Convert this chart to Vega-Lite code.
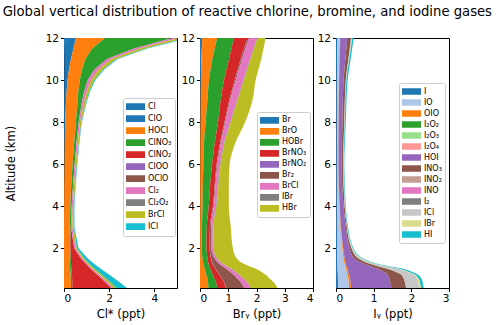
{
  "$schema": "https://vega.github.io/schema/vega-lite/v6.json",
  "padding": {"left": 2, "top": 5, "right": 2, "bottom": 5},
  "title": {"text": "Global vertical distribution of reactive chlorine, bromine, and iodine gases", "fontSize": 13.2, "fontWeight": "normal", "font": "DejaVu Sans", "color": "black", "anchor": "middle", "offset": 13, "dx": 20},
  "config": {
    "font": "DejaVu Sans",
    "view": {"stroke": "black", "strokeWidth": 1},
    "axis": {"grid": false, "domain": false, "tickColor": "black", "tickSize": 3.5, "labelFontSize": 10.5, "titleFontSize": 11.5, "labelColor": "black", "titleColor": "black", "titleFontWeight": "normal", "labelPadding": 2, "labelFont": "DejaVu Sans", "titleFont": "DejaVu Sans"},
    "legend": {"orient": "none", "title": null, "fillColor": "white", "strokeColor": "#cccccc", "cornerRadius": 2, "padding": 3, "labelFontSize": 8, "labelFont": "DejaVu Sans", "labelColor": "black", "symbolType": "M-1,-0.35H1V0.35H-1Z", "symbolSize": 361, "symbolStrokeWidth": 0, "symbolOpacity": 1, "clipHeight": 11.2, "rowPadding": 0, "labelOffset": 3}
  },
  "spacing": 23,
  "bounds": "flush",
  "resolve": {"scale": {"color": "independent"}, "legend": {"color": "independent"}},
  "datasets": {
    "cl": [
      {"a":0.1,"s":"Cl","v":0},{"a":0.1,"s":"ClO","v":0},{"a":0.1,"s":"HOCl","v":0.31},{"a":0.1,"s":"ClNO₃","v":0.06},{"a":0.1,"s":"ClNO₂","v":1.71},{"a":0.1,"s":"Cl₂","v":0.10},{"a":0.1,"s":"BrCl","v":0.14},{"a":0.1,"s":"ICl","v":0.46},
      {"a":0.3,"s":"Cl","v":0},{"a":0.3,"s":"ClO","v":0},{"a":0.3,"s":"HOCl","v":0.31},{"a":0.3,"s":"ClNO₃","v":0.06},{"a":0.3,"s":"ClNO₂","v":1.53},{"a":0.3,"s":"Cl₂","v":0.10},{"a":0.3,"s":"BrCl","v":0.13},{"a":0.3,"s":"ICl","v":0.42},
      {"a":0.5,"s":"Cl","v":0},{"a":0.5,"s":"ClO","v":0},{"a":0.5,"s":"HOCl","v":0.30},{"a":0.5,"s":"ClNO₃","v":0.06},{"a":0.5,"s":"ClNO₂","v":1.35},{"a":0.5,"s":"Cl₂","v":0.09},{"a":0.5,"s":"BrCl","v":0.12},{"a":0.5,"s":"ICl","v":0.38},
      {"a":0.75,"s":"Cl","v":0},{"a":0.75,"s":"ClO","v":0},{"a":0.75,"s":"HOCl","v":0.29},{"a":0.75,"s":"ClNO₃","v":0.06},{"a":0.75,"s":"ClNO₂","v":1.10},{"a":0.75,"s":"Cl₂","v":0.09},{"a":0.75,"s":"BrCl","v":0.11},{"a":0.75,"s":"ICl","v":0.33},
      {"a":1,"s":"Cl","v":0},{"a":1,"s":"ClO","v":0},{"a":1,"s":"HOCl","v":0.27},{"a":1,"s":"ClNO₃","v":0.06},{"a":1,"s":"ClNO₂","v":0.86},{"a":1,"s":"Cl₂","v":0.08},{"a":1,"s":"BrCl","v":0.10},{"a":1,"s":"ICl","v":0.27},
      {"a":1.25,"s":"Cl","v":0},{"a":1.25,"s":"ClO","v":0},{"a":1.25,"s":"HOCl","v":0.26},{"a":1.25,"s":"ClNO₃","v":0.05},{"a":1.25,"s":"ClNO₂","v":0.66},{"a":1.25,"s":"Cl₂","v":0.07},{"a":1.25,"s":"BrCl","v":0.08},{"a":1.25,"s":"ICl","v":0.21},
      {"a":1.5,"s":"Cl","v":0},{"a":1.5,"s":"ClO","v":0},{"a":1.5,"s":"HOCl","v":0.25},{"a":1.5,"s":"ClNO₃","v":0.05},{"a":1.5,"s":"ClNO₂","v":0.45},{"a":1.5,"s":"Cl₂","v":0.07},{"a":1.5,"s":"BrCl","v":0.08},{"a":1.5,"s":"ICl","v":0.15},
      {"a":2,"s":"Cl","v":0},{"a":2,"s":"ClO","v":0},{"a":2,"s":"HOCl","v":0.24},{"a":2,"s":"ClNO₃","v":0.04},{"a":2,"s":"ClNO₂","v":0.17},{"a":2,"s":"Cl₂","v":0.06},{"a":2,"s":"BrCl","v":0.06},{"a":2,"s":"ICl","v":0.07},
      {"a":3,"s":"Cl","v":0},{"a":3,"s":"ClO","v":0},{"a":3,"s":"HOCl","v":0.25},{"a":3,"s":"ClNO₃","v":0.05},{"a":3,"s":"ClNO₂","v":0.01},{"a":3,"s":"Cl₂","v":0.06},{"a":3,"s":"BrCl","v":0.06},{"a":3,"s":"ICl","v":0.03},
      {"a":4,"s":"Cl","v":0.001},{"a":4,"s":"ClO","v":0.004},{"a":4,"s":"HOCl","v":0.275},{"a":4,"s":"ClNO₃","v":0.06},{"a":4,"s":"ClNO₂","v":0},{"a":4,"s":"Cl₂","v":0.05},{"a":4,"s":"BrCl","v":0.05},{"a":4,"s":"ICl","v":0.02},
      {"a":5,"s":"Cl","v":0.001},{"a":5,"s":"ClO","v":0.009},{"a":5,"s":"HOCl","v":0.31},{"a":5,"s":"ClNO₃","v":0.08},{"a":5,"s":"ClNO₂","v":0},{"a":5,"s":"Cl₂","v":0.05},{"a":5,"s":"BrCl","v":0.05},{"a":5,"s":"ICl","v":0.02},
      {"a":6,"s":"Cl","v":0.002},{"a":6,"s":"ClO","v":0.018},{"a":6,"s":"HOCl","v":0.36},{"a":6,"s":"ClNO₃","v":0.09},{"a":6,"s":"ClNO₂","v":0},{"a":6,"s":"Cl₂","v":0.05},{"a":6,"s":"BrCl","v":0.05},{"a":6,"s":"ICl","v":0.02},
      {"a":7,"s":"Cl","v":0.003},{"a":7,"s":"ClO","v":0.027},{"a":7,"s":"HOCl","v":0.42},{"a":7,"s":"ClNO₃","v":0.10},{"a":7,"s":"ClNO₂","v":0},{"a":7,"s":"Cl₂","v":0.06},{"a":7,"s":"BrCl","v":0.05},{"a":7,"s":"ICl","v":0.02},
      {"a":8,"s":"Cl","v":0.005},{"a":8,"s":"ClO","v":0.045},{"a":8,"s":"HOCl","v":0.48},{"a":8,"s":"ClNO₃","v":0.12},{"a":8,"s":"ClNO₂","v":0},{"a":8,"s":"Cl₂","v":0.06},{"a":8,"s":"BrCl","v":0.06},{"a":8,"s":"ICl","v":0.02},
      {"a":9,"s":"Cl","v":0.009},{"a":9,"s":"ClO","v":0.081},{"a":9,"s":"HOCl","v":0.51},{"a":9,"s":"ClNO₃","v":0.20},{"a":9,"s":"ClNO₂","v":0},{"a":9,"s":"Cl₂","v":0.10},{"a":9,"s":"BrCl","v":0.09},{"a":9,"s":"ICl","v":0.03},
      {"a":9.5,"s":"Cl","v":0.012},{"a":9.5,"s":"ClO","v":0.108},{"a":9.5,"s":"HOCl","v":0.52},{"a":9.5,"s":"ClNO₃","v":0.26},{"a":9.5,"s":"ClNO₂","v":0},{"a":9.5,"s":"Cl₂","v":0.12},{"a":9.5,"s":"BrCl","v":0.11},{"a":9.5,"s":"ICl","v":0.04},
      {"a":10,"s":"Cl","v":0.016},{"a":10,"s":"ClO","v":0.144},{"a":10,"s":"HOCl","v":0.54},{"a":10,"s":"ClNO₃","v":0.35},{"a":10,"s":"ClNO₂","v":0},{"a":10,"s":"Cl₂","v":0.15},{"a":10,"s":"BrCl","v":0.14},{"a":10,"s":"ICl","v":0.05},
      {"a":10.5,"s":"Cl","v":0.022},{"a":10.5,"s":"ClO","v":0.198},{"a":10.5,"s":"HOCl","v":0.58},{"a":10.5,"s":"ClNO₃","v":0.55},{"a":10.5,"s":"ClNO₂","v":0},{"a":10.5,"s":"Cl₂","v":0.18},{"a":10.5,"s":"BrCl","v":0.19},{"a":10.5,"s":"ICl","v":0.06},
      {"a":11,"s":"Cl","v":0.031},{"a":11,"s":"ClO","v":0.279},{"a":11,"s":"HOCl","v":0.64},{"a":11,"s":"ClNO₃","v":0.95},{"a":11,"s":"ClNO₂","v":0},{"a":11,"s":"Cl₂","v":0.20},{"a":11,"s":"BrCl","v":0.22},{"a":11,"s":"ICl","v":0.06},
      {"a":11.5,"s":"Cl","v":0.042},{"a":11.5,"s":"ClO","v":0.378},{"a":11.5,"s":"HOCl","v":0.83},{"a":11.5,"s":"ClNO₃","v":1.85},{"a":11.5,"s":"ClNO₂","v":0},{"a":11.5,"s":"Cl₂","v":0.25},{"a":11.5,"s":"BrCl","v":0.27},{"a":11.5,"s":"ICl","v":0.08},
      {"a":12,"s":"Cl","v":0.053},{"a":12,"s":"ClO","v":0.477},{"a":12,"s":"HOCl","v":1.29},{"a":12,"s":"ClNO₃","v":2.98},{"a":12,"s":"ClNO₂","v":0},{"a":12,"s":"Cl₂","v":0.30},{"a":12,"s":"BrCl","v":0.30},{"a":12,"s":"ICl","v":0.10}
    ],
    "br": [
      {"a":0.1,"s":"Br","v":0},{"a":0.1,"s":"BrO","v":0.30},{"a":0.1,"s":"HOBr","v":0.31},{"a":0.1,"s":"BrNO₃","v":0.30},{"a":0.1,"s":"BrNO₂","v":0.01},{"a":0.1,"s":"Br₂","v":0.64},{"a":0.1,"s":"BrCl","v":0.22},{"a":0.1,"s":"IBr","v":0.02},{"a":0.1,"s":"HBr","v":0.94},
      {"a":0.3,"s":"Br","v":0},{"a":0.3,"s":"BrO","v":0.29},{"a":0.3,"s":"HOBr","v":0.29},{"a":0.3,"s":"BrNO₃","v":0.29},{"a":0.3,"s":"BrNO₂","v":0.01},{"a":0.3,"s":"Br₂","v":0.60},{"a":0.3,"s":"BrCl","v":0.22},{"a":0.3,"s":"IBr","v":0.02},{"a":0.3,"s":"HBr","v":0.93},
      {"a":0.5,"s":"Br","v":0},{"a":0.5,"s":"BrO","v":0.27},{"a":0.5,"s":"HOBr","v":0.26},{"a":0.5,"s":"BrNO₃","v":0.27},{"a":0.5,"s":"BrNO₂","v":0.01},{"a":0.5,"s":"Br₂","v":0.55},{"a":0.5,"s":"BrCl","v":0.21},{"a":0.5,"s":"IBr","v":0.02},{"a":0.5,"s":"HBr","v":0.91},
      {"a":0.75,"s":"Br","v":0},{"a":0.75,"s":"BrO","v":0.22},{"a":0.75,"s":"HOBr","v":0.23},{"a":0.75,"s":"BrNO₃","v":0.23},{"a":0.75,"s":"BrNO₂","v":0.01},{"a":0.75,"s":"Br₂","v":0.48},{"a":0.75,"s":"BrCl","v":0.19},{"a":0.75,"s":"IBr","v":0.02},{"a":0.75,"s":"HBr","v":0.92},
      {"a":1,"s":"Br","v":0},{"a":1,"s":"BrO","v":0.17},{"a":1,"s":"HOBr","v":0.20},{"a":1,"s":"BrNO₃","v":0.18},{"a":1,"s":"BrNO₂","v":0.01},{"a":1,"s":"Br₂","v":0.39},{"a":1,"s":"BrCl","v":0.17},{"a":1,"s":"IBr","v":0.02},{"a":1,"s":"HBr","v":0.86},
      {"a":1.25,"s":"Br","v":0},{"a":1.25,"s":"BrO","v":0.12},{"a":1.25,"s":"HOBr","v":0.18},{"a":1.25,"s":"BrNO₃","v":0.14},{"a":1.25,"s":"BrNO₂","v":0.01},{"a":1.25,"s":"Br₂","v":0.23},{"a":1.25,"s":"BrCl","v":0.12},{"a":1.25,"s":"IBr","v":0.02},{"a":1.25,"s":"HBr","v":0.73},
      {"a":1.5,"s":"Br","v":0},{"a":1.5,"s":"BrO","v":0.09},{"a":1.5,"s":"HOBr","v":0.18},{"a":1.5,"s":"BrNO₃","v":0.12},{"a":1.5,"s":"BrNO₂","v":0.01},{"a":1.5,"s":"Br₂","v":0.12},{"a":1.5,"s":"BrCl","v":0.08},{"a":1.5,"s":"IBr","v":0.02},{"a":1.5,"s":"HBr","v":0.68},
      {"a":2,"s":"Br","v":0.003},{"a":2,"s":"BrO","v":0.057},{"a":2,"s":"HOBr","v":0.17},{"a":2,"s":"BrNO₃","v":0.11},{"a":2,"s":"BrNO₂","v":0.005},{"a":2,"s":"Br₂","v":0.055},{"a":2,"s":"BrCl","v":0.06},{"a":2,"s":"IBr","v":0.02},{"a":2,"s":"HBr","v":0.68},
      {"a":3,"s":"Br","v":0.004},{"a":3,"s":"BrO","v":0.066},{"a":3,"s":"HOBr","v":0.17},{"a":3,"s":"BrNO₃","v":0.11},{"a":3,"s":"BrNO₂","v":0.005},{"a":3,"s":"Br₂","v":0.035},{"a":3,"s":"BrCl","v":0.06},{"a":3,"s":"IBr","v":0.02},{"a":3,"s":"HBr","v":0.62},
      {"a":4,"s":"Br","v":0.005},{"a":4,"s":"BrO","v":0.085},{"a":4,"s":"HOBr","v":0.22},{"a":4,"s":"BrNO₃","v":0.15},{"a":4,"s":"BrNO₂","v":0.005},{"a":4,"s":"Br₂","v":0.025},{"a":4,"s":"BrCl","v":0.08},{"a":4,"s":"IBr","v":0.02},{"a":4,"s":"HBr","v":0.43},
      {"a":5,"s":"Br","v":0.006},{"a":5,"s":"BrO","v":0.094},{"a":5,"s":"HOBr","v":0.26},{"a":5,"s":"BrNO₃","v":0.16},{"a":5,"s":"BrNO₂","v":0.005},{"a":5,"s":"Br₂","v":0.025},{"a":5,"s":"BrCl","v":0.08},{"a":5,"s":"IBr","v":0.02},{"a":5,"s":"HBr","v":0.37},
      {"a":6,"s":"Br","v":0.008},{"a":6,"s":"BrO","v":0.112},{"a":6,"s":"HOBr","v":0.31},{"a":6,"s":"BrNO₃","v":0.16},{"a":6,"s":"BrNO₂","v":0.005},{"a":6,"s":"Br₂","v":0.025},{"a":6,"s":"BrCl","v":0.09},{"a":6,"s":"IBr","v":0.02},{"a":6,"s":"HBr","v":0.32},
      {"a":7,"s":"Br","v":0.01},{"a":7,"s":"BrO","v":0.13},{"a":7,"s":"HOBr","v":0.38},{"a":7,"s":"BrNO₃","v":0.19},{"a":7,"s":"BrNO₂","v":0.005},{"a":7,"s":"Br₂","v":0.025},{"a":7,"s":"BrCl","v":0.11},{"a":7,"s":"IBr","v":0.02},{"a":7,"s":"HBr","v":0.38},
      {"a":8,"s":"Br","v":0.015},{"a":8,"s":"BrO","v":0.185},{"a":8,"s":"HOBr","v":0.44},{"a":8,"s":"BrNO₃","v":0.23},{"a":8,"s":"BrNO₂","v":0.005},{"a":8,"s":"Br₂","v":0.025},{"a":8,"s":"BrCl","v":0.17},{"a":8,"s":"IBr","v":0.02},{"a":8,"s":"HBr","v":0.51},
      {"a":9,"s":"Br","v":0.02},{"a":9,"s":"BrO","v":0.24},{"a":9,"s":"HOBr","v":0.47},{"a":9,"s":"BrNO₃","v":0.30},{"a":9,"s":"BrNO₂","v":0.005},{"a":9,"s":"Br₂","v":0.025},{"a":9,"s":"BrCl","v":0.24},{"a":9,"s":"IBr","v":0.02},{"a":9,"s":"HBr","v":0.53},
      {"a":10,"s":"Br","v":0.03},{"a":10,"s":"BrO","v":0.29},{"a":10,"s":"HOBr","v":0.53},{"a":10,"s":"BrNO₃","v":0.38},{"a":10,"s":"BrNO₂","v":0.005},{"a":10,"s":"Br₂","v":0.035},{"a":10,"s":"BrCl","v":0.27},{"a":10,"s":"IBr","v":0.02},{"a":10,"s":"HBr","v":0.41},
      {"a":11,"s":"Br","v":0.05},{"a":11,"s":"BrO","v":0.39},{"a":11,"s":"HOBr","v":0.59},{"a":11,"s":"BrNO₃","v":0.41},{"a":11,"s":"BrNO₂","v":0.005},{"a":11,"s":"Br₂","v":0.045},{"a":11,"s":"BrCl","v":0.28},{"a":11,"s":"IBr","v":0.02},{"a":11,"s":"HBr","v":0.38},
      {"a":12,"s":"Br","v":0.08},{"a":12,"s":"BrO","v":0.53},{"a":12,"s":"HOBr","v":0.59},{"a":12,"s":"BrNO₃","v":0.48},{"a":12,"s":"BrNO₂","v":0.005},{"a":12,"s":"Br₂","v":0.045},{"a":12,"s":"BrCl","v":0.29},{"a":12,"s":"IBr","v":0.02},{"a":12,"s":"HBr","v":0.28}
    ],
    "io": [
      {"a":0.1,"s":"I","v":0.06},{"a":0.1,"s":"IO","v":0.29},{"a":0.1,"s":"OIO","v":0.05},{"a":0.1,"s":"HOI","v":1.07},{"a":0.1,"s":"INO₃","v":0.39},{"a":0.1,"s":"ICl","v":0.35},{"a":0.1,"s":"IBr","v":0.05},{"a":0.1,"s":"HI","v":0.07},
      {"a":0.3,"s":"I","v":0.06},{"a":0.3,"s":"IO","v":0.28},{"a":0.3,"s":"OIO","v":0.05},{"a":0.3,"s":"HOI","v":1.06},{"a":0.3,"s":"INO₃","v":0.39},{"a":0.3,"s":"ICl","v":0.35},{"a":0.3,"s":"IBr","v":0.05},{"a":0.3,"s":"HI","v":0.07},
      {"a":0.5,"s":"I","v":0.05},{"a":0.5,"s":"IO","v":0.28},{"a":0.5,"s":"OIO","v":0.05},{"a":0.5,"s":"HOI","v":1.04},{"a":0.5,"s":"INO₃","v":0.39},{"a":0.5,"s":"ICl","v":0.35},{"a":0.5,"s":"IBr","v":0.05},{"a":0.5,"s":"HI","v":0.07},
      {"a":0.75,"s":"I","v":0.05},{"a":0.75,"s":"IO","v":0.25},{"a":0.75,"s":"OIO","v":0.04},{"a":0.75,"s":"HOI","v":1.02},{"a":0.75,"s":"INO₃","v":0.36},{"a":0.75,"s":"ICl","v":0.32},{"a":0.75,"s":"IBr","v":0.04},{"a":0.75,"s":"HI","v":0.08},
      {"a":1,"s":"I","v":0.04},{"a":1,"s":"IO","v":0.23},{"a":1,"s":"OIO","v":0.04},{"a":1,"s":"HOI","v":0.81},{"a":1,"s":"INO₃","v":0.26},{"a":1,"s":"ICl","v":0.28},{"a":1,"s":"IBr","v":0.04},{"a":1,"s":"HI","v":0.10},
      {"a":1.25,"s":"I","v":0.04},{"a":1.25,"s":"IO","v":0.19},{"a":1.25,"s":"OIO","v":0.03},{"a":1.25,"s":"HOI","v":0.48},{"a":1.25,"s":"INO₃","v":0.16},{"a":1.25,"s":"ICl","v":0.13},{"a":1.25,"s":"IBr","v":0.02},{"a":1.25,"s":"HI","v":0.05},
      {"a":1.5,"s":"I","v":0.03},{"a":1.5,"s":"IO","v":0.17},{"a":1.5,"s":"OIO","v":0.03},{"a":1.5,"s":"HOI","v":0.25},{"a":1.5,"s":"INO₃","v":0.12},{"a":1.5,"s":"ICl","v":0.08},{"a":1.5,"s":"IBr","v":0.02},{"a":1.5,"s":"HI","v":0.03},
      {"a":2,"s":"I","v":0.03},{"a":2,"s":"IO","v":0.14},{"a":2,"s":"OIO","v":0.02},{"a":2,"s":"HOI","v":0.17},{"a":2,"s":"INO₃","v":0.05},{"a":2,"s":"ICl","v":0.02},{"a":2,"s":"IBr","v":0.01},{"a":2,"s":"HI","v":0.02},
      {"a":3,"s":"I","v":0.02},{"a":3,"s":"IO","v":0.10},{"a":3,"s":"OIO","v":0.01},{"a":3,"s":"HOI","v":0.13},{"a":3,"s":"INO₃","v":0.03},{"a":3,"s":"ICl","v":0.01},{"a":3,"s":"IBr","v":0.005},{"a":3,"s":"HI","v":0.015},
      {"a":4,"s":"I","v":0.02},{"a":4,"s":"IO","v":0.07},{"a":4,"s":"OIO","v":0.01},{"a":4,"s":"HOI","v":0.10},{"a":4,"s":"INO₃","v":0.03},{"a":4,"s":"ICl","v":0.01},{"a":4,"s":"IBr","v":0.005},{"a":4,"s":"HI","v":0.015},
      {"a":6,"s":"I","v":0.02},{"a":6,"s":"IO","v":0.04},{"a":6,"s":"OIO","v":0.005},{"a":6,"s":"HOI","v":0.085},{"a":6,"s":"INO₃","v":0.04},{"a":6,"s":"ICl","v":0.01},{"a":6,"s":"IBr","v":0.005},{"a":6,"s":"HI","v":0.015},
      {"a":8,"s":"I","v":0.02},{"a":8,"s":"IO","v":0.045},{"a":8,"s":"OIO","v":0.005},{"a":8,"s":"HOI","v":0.10},{"a":8,"s":"INO₃","v":0.05},{"a":8,"s":"ICl","v":0.01},{"a":8,"s":"IBr","v":0.005},{"a":8,"s":"HI","v":0.025},
      {"a":10,"s":"I","v":0.02},{"a":10,"s":"IO","v":0.06},{"a":10,"s":"OIO","v":0.005},{"a":10,"s":"HOI","v":0.115},{"a":10,"s":"INO₃","v":0.06},{"a":10,"s":"ICl","v":0.01},{"a":10,"s":"IBr","v":0.005},{"a":10,"s":"HI","v":0.035},
      {"a":11,"s":"I","v":0.03},{"a":11,"s":"IO","v":0.06},{"a":11,"s":"OIO","v":0.005},{"a":11,"s":"HOI","v":0.155},{"a":11,"s":"INO₃","v":0.08},{"a":11,"s":"ICl","v":0.02},{"a":11,"s":"IBr","v":0.005},{"a":11,"s":"HI","v":0.035},
      {"a":12,"s":"I","v":0.04},{"a":12,"s":"IO","v":0.07},{"a":12,"s":"OIO","v":0.005},{"a":12,"s":"HOI","v":0.185},{"a":12,"s":"INO₃","v":0.10},{"a":12,"s":"ICl","v":0.02},{"a":12,"s":"IBr","v":0.01},{"a":12,"s":"HI","v":0.04}
    ]
  },
  "hconcat": [
    {
      "width": 113, "height": 250,
      "data": {"name": "cl"},
      "transform": [{"calculate": "indexof(['Cl','ClO','HOCl','ClNO₃','ClNO₂','ClOO','OClO','Cl₂','Cl₂O₂','BrCl','ICl'], datum.s)", "as": "o"}],
      "mark": {"type": "area", "orient": "horizontal", "clip": true},
      "encoding": {
        "y": {"field": "a", "type": "quantitative", "scale": {"domain": [0.1, 12], "nice": false, "zero": false}, "axis": {"values": [2, 4, 6, 8, 10, 12], "title": "Altitude (km)", "titlePadding": 29}},
        "x": {"field": "v", "type": "quantitative", "stack": "zero", "scale": {"domain": [0, 5], "nice": false}, "axis": {"values": [0, 2, 4], "title": "Cl* (ppt)"}},
        "color": {"field": "s", "type": "nominal", "scale": {"domain": ["Cl","ClO","HOCl","ClNO₃","ClNO₂","ClOO","OClO","Cl₂","Cl₂O₂","BrCl","ICl"], "range": ["#1f77b4","#1f77b4","#ff7f0e","#2ca02c","#d62728","#9467bd","#8c564b","#e377c2","#7f7f7f","#bcbd22","#17becf"]}, "legend": {"legendX": 59, "legendY": 60}},
        "order": {"field": "o", "type": "quantitative"}
      }
    },
    {
      "width": 113, "height": 250,
      "data": {"name": "br"},
      "transform": [{"calculate": "indexof(['Br','BrO','HOBr','BrNO₃','BrNO₂','Br₂','BrCl','IBr','HBr'], datum.s)", "as": "o"}],
      "mark": {"type": "area", "orient": "horizontal", "clip": true, "interpolate": "monotone"},
      "encoding": {
        "y": {"field": "a", "type": "quantitative", "scale": {"domain": [0.1, 12], "nice": false, "zero": false}, "axis": {"values": [2, 4, 6, 8, 10, 12], "title": null}},
        "x": {"field": "v", "type": "quantitative", "stack": "zero", "scale": {"domain": [0, 4], "nice": false}, "axis": {"values": [0, 1, 2, 3, 4], "title": "Brᵧ (ppt)"}},
        "color": {"field": "s", "type": "nominal", "scale": {"domain": ["Br","BrO","HOBr","BrNO₃","BrNO₂","Br₂","BrCl","IBr","HBr"], "range": ["#1f77b4","#ff7f0e","#2ca02c","#d62728","#9467bd","#8c564b","#e377c2","#7f7f7f","#bcbd22"]}, "legend": {"legendX": 57, "legendY": 74, "clipHeight": 10.8}},
        "order": {"field": "o", "type": "quantitative"}
      }
    },
    {
      "width": 113, "height": 250,
      "data": {"name": "io"},
      "transform": [{"calculate": "indexof(['I','IO','OIO','I₂O₂','I₂O₃','I₂O₄','HOI','INO₃','INO₂','INO','I₂','ICl','IBr','HI'], datum.s)", "as": "o"}],
      "mark": {"type": "area", "orient": "horizontal", "clip": true, "interpolate": "monotone"},
      "encoding": {
        "y": {"field": "a", "type": "quantitative", "scale": {"domain": [0.1, 12], "nice": false, "zero": false}, "axis": {"values": [2, 4, 6, 8, 10, 12], "title": null}},
        "x": {"field": "v", "type": "quantitative", "stack": "zero", "scale": {"domain": [0, 3], "nice": false}, "axis": {"values": [0, 1, 2, 3], "title": "Iᵧ (ppt)"}},
        "color": {"field": "s", "type": "nominal", "scale": {"domain": ["I","IO","OIO","I₂O₂","I₂O₃","I₂O₄","HOI","INO₃","INO₂","INO","I₂","ICl","IBr","HI"], "range": ["#1f77b4","#aec7e8","#ff7f0e","#2ca02c","#98df8a","#ff9896","#9467bd","#8c564b","#c49c94","#e377c2","#7f7f7f","#c7c7c7","#dbdb8d","#17becf"]}, "legend": {"legendX": 63, "legendY": 45, "clipHeight": 11}},
        "order": {"field": "o", "type": "quantitative"}
      }
    }
  ]
}
